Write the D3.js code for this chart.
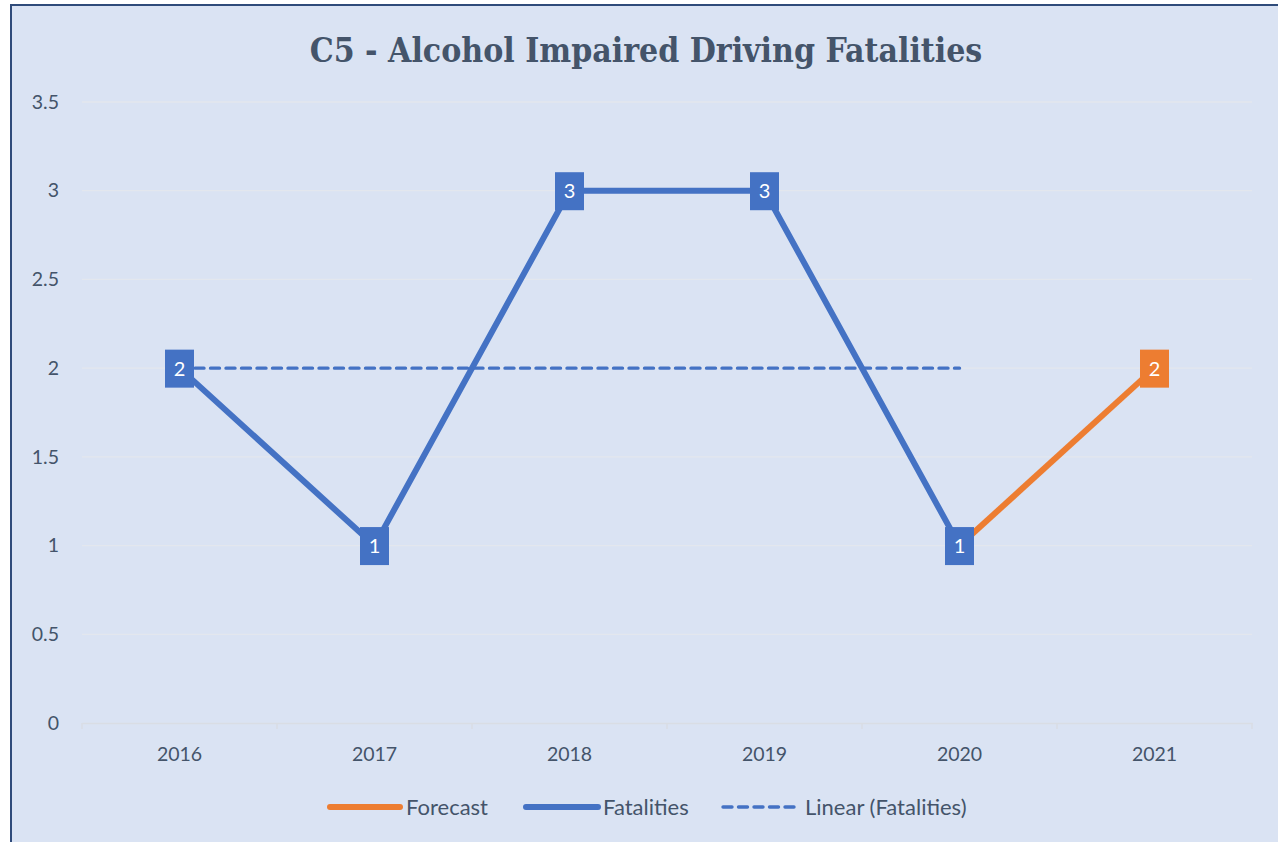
<!DOCTYPE html>
<html><head><meta charset="utf-8">
<script src="https://cdn.jsdelivr.net/npm/d3@7"></script>
<style>body{margin:0;background:#fff}svg{display:block}</style>
</head><body>
<script>
const categories = ["2016","2017","2018","2019","2020","2021"];
const fatalities = [2,1,3,3,1];          // 2016-2020
const forecastYears = ["2020","2021"];
const forecast = [1,2];
const yTicks = [0,0.5,1,1.5,2,2.5,3,3.5];
const title = "C5 - Alcohol Impaired Driving Fatalities";
const legendItems = ["Forecast","Fatalities","Linear (Fatalities)"];

const W=1278,H=842;
const svg=d3.select("body").append("svg").attr("width",W).attr("height",H);
svg.append("rect").attr("x",11).attr("y",5).attr("width",1300).attr("height",900)
  .attr("fill","#dae3f3").attr("stroke","#2f4b7a").attr("stroke-width",2);

const x=d3.scaleBand().domain(categories).range([82,1252]);
const y=d3.scaleLinear().domain([0,3.5]).range([723,102]);
const cx=c=>x(c)+x.bandwidth()/2;
const textCol="#44546a";
const font="Lato, 'Open Sans', sans-serif";

// gridlines
svg.append("g").selectAll("line").data(yTicks.filter(d=>d>0)).join("line")
  .attr("x1",82).attr("x2",1252).attr("y1",d=>y(d)).attr("y2",d=>y(d))
  .attr("stroke","#e3e7ee").attr("stroke-width",1.3);

// x axis
const xa=svg.append("g").attr("transform","translate(0,723)")
  .call(d3.axisBottom(x).tickSize(0).tickPadding(0));
xa.select(".domain").attr("stroke","#d9dde4").attr("stroke-width",1.5);
xa.selectAll(".tick text").attr("dy",null).attr("y",38).attr("font-family",font)
  .attr("font-size",19.5).attr("fill",textCol);
svg.append("g").selectAll("line").data(d3.range(categories.length+1)).join("line")
  .attr("x1",i=>82+i*x.bandwidth()).attr("x2",i=>82+i*x.bandwidth())
  .attr("y1",723).attr("y2",729).attr("stroke","#d9dde4").attr("stroke-width",1.5);

// y axis labels
const ya=svg.append("g").attr("transform","translate(59,0)")
  .call(d3.axisLeft(y).tickValues(yTicks).tickSize(0).tickPadding(0).tickFormat(d=>String(d)));
ya.select(".domain").remove();
ya.selectAll(".tick text").attr("font-family",font)
  .attr("font-size",19.5).attr("fill",textCol);

// trendline (least squares on fatalities)
const n=fatalities.length, xs=d3.range(n);
const mx=d3.mean(xs), my=d3.mean(fatalities);
const slope=d3.sum(xs,(v,i)=>(v-mx)*(fatalities[i]-my))/d3.sum(xs,v=>(v-mx)*(v-mx));
const icpt=my-slope*mx;
const trendPts=[0,n-1].map(i=>[cx(categories[i]),y(icpt+slope*i)]);
svg.append("path").attr("d",d3.line()(trendPts)).attr("fill","none")
  .attr("stroke","#4472c4").attr("stroke-width",3.4).attr("stroke-dasharray","9,6.5").attr("stroke-linecap","round");

const line=d3.line().x(d=>cx(d[0])).y(d=>y(d[1]));
svg.append("path").attr("d",line(forecastYears.map((c,i)=>[c,forecast[i]]))).attr("fill","none")
  .attr("stroke","#ed7d31").attr("stroke-width",6);
svg.append("path").attr("d",line(fatalities.map((v,i)=>[categories[i],v]))).attr("fill","none")
  .attr("stroke","#4472c4").attr("stroke-width",6).attr("stroke-linejoin","round");

function labels(data,color){
  const g=svg.append("g").selectAll("g").data(data).join("g")
    .attr("transform",d=>`translate(${cx(d[0])},${y(d[1])})`);
  g.append("rect").attr("x",-14.5).attr("y",-18.5).attr("width",29).attr("height",38).attr("fill",color);
  g.append("text").attr("text-anchor","middle").attr("y",7.5).attr("fill","#fff")
    .attr("font-family",font).attr("font-size",20).text(d=>d[1]);
}
labels(fatalities.map((v,i)=>[categories[i],v]),"#4472c4");
labels([[forecastYears[1],forecast[1]]],"#ed7d31");

// title
const t=svg.append("text").attr("x",646).attr("y",62).attr("text-anchor","middle")
  .attr("font-family","'DejaVu Serif Condensed','DejaVu Serif',serif").attr("font-weight","bold")
  .attr("font-stretch","condensed").attr("font-size",34).attr("fill",textCol).text(title);
const tw=t.node().getComputedTextLength();
t.attr("font-size",34*673/tw);

// legend
const lg=svg.append("g");
const leg=[{x1:330,x2:400,tx:406,c:"#ed7d31",dash:null,w:6},
           {x1:526,x2:598,tx:603,c:"#4472c4",dash:null,w:6},
           {x1:723,x2:800,tx:805,c:"#4472c4",dash:"9,6.5",w:3.4}];
leg.forEach((l,i)=>{
  lg.append("line").attr("x1",l.x1).attr("x2",l.x2).attr("y1",807).attr("y2",807)
    .attr("stroke",l.c).attr("stroke-width",l.w).attr("stroke-linecap","round").attr("stroke-dasharray",l.dash);
  lg.append("text").attr("x",l.tx).attr("y",815).attr("font-family",font)
    .attr("font-size",22).attr("fill",textCol).text(legendItems[i]);
});
</script>
</body></html>
